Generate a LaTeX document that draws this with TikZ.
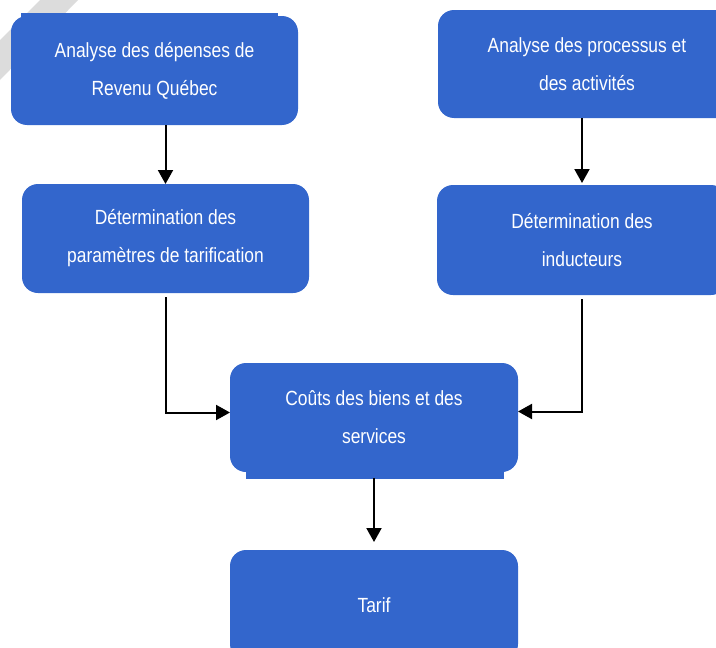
\documentclass[tikz,border=0pt]{standalone}
\usepackage{fontspec}
\setmainfont{Liberation Sans}[FakeStretch=0.85]
\usetikzlibrary{positioning, arrows.meta, calc}
\definecolor{boxblue}{HTML}{3366CC}
\definecolor{markgray}{HTML}{DCDCDC}

\begin{document}
\begin{tikzpicture}[x=1pt, y=-1pt,
    stage/.style={fill=boxblue, rounded corners=16pt, inner sep=0pt, outer sep=0pt,
      text=white, align=center, font=\fontsize{20.5}{38}\selectfont},
    flow/.style={-{Triangle[width=15pt, length=14pt]}, line width=2pt}]
  \useasboundingbox (0,0) rectangle (716,648);
  % watermark corner
  \fill[markgray] (40,0) -- (78,0) -- (0,80) -- (0,40) -- cycle;
  % left column
  \node[stage, minimum width=287pt, minimum height=109pt] (depenses) at (154.5,70.5)
    {Analyse des dépenses de\\Revenu Québec};
  \fill[boxblue] ($(depenses.north west)+(10,-3)$) rectangle ($(depenses.north east)+(-20,12)$);
  \node[stage, minimum width=287pt, minimum height=109pt] (param) at (165.5,238.5)
    {Détermination des\\paramètres de tarification};
  % right column
  \node[stage, minimum width=298pt, minimum height=108pt] (processus) at (587,64)
    {Analyse des processus et\\des activités};
  \node[stage, minimum width=290pt, minimum height=110pt] (induct) at (582,240)
    {Détermination des\\inducteurs};
  % middle
  \node[stage, minimum width=288pt, minimum height=109pt] (couts) at (374,417.5)
    {Coûts des biens et des\\services};
  \fill[boxblue] ($(couts.south west)+(16,7)$) rectangle ($(couts.south east)+(-14,-12)$);
  \node[stage, minimum width=288pt, minimum height=110pt] (tarif) at (374,605) {Tarif};
  % arrows
  \draw[flow] (param.north |- depenses.south) -- (param.north);
  \draw[flow] (induct.north |- processus.south) -- ([yshift=2pt]induct.north);
  \draw[flow] ([yshift=-4pt]param.south) |- ([yshift=5pt]couts.west);
  \draw[flow] ([yshift=-4pt]induct.south) |- ([yshift=6pt]couts.east);
  \draw[flow, shorten >=8pt] ([yshift=-6pt]couts.south) -- (tarif.north);
\end{tikzpicture}
\end{document}
